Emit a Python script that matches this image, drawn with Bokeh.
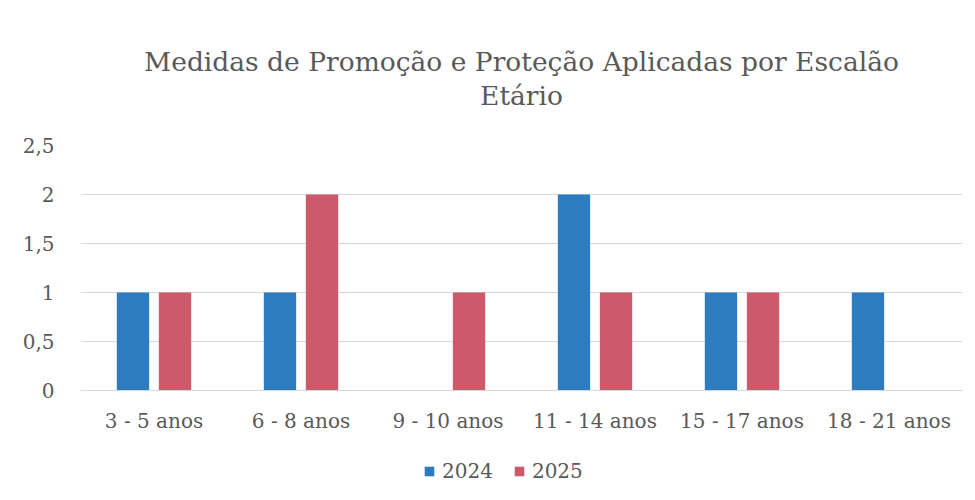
from bokeh.plotting import figure
from bokeh.layouts import column
from bokeh.models import (ColumnDataSource, Label, Legend, LegendItem, SingleIntervalTicker,
                          CustomJSTickFormatter, Range1d)
from bokeh.transform import dodge
from bokeh.embed import file_html
from bokeh.resources import INLINE

categories = ["3 - 5 anos", "6 - 8 anos", "9 - 10 anos", "11 - 14 anos", "15 - 17 anos", "18 - 21 anos"]
v2024 = [1, 1, 0, 2, 1, 1]
v2025 = [1, 2, 1, 1, 1, 0]
series = ["2024", "2025"]
title_lines = ["Medidas de Promoção e Proteção Aplicadas por Escalão", "Etário"]

FONT = "DejaVu Serif"
GRAY = "#595959"
BLUE = "#2e7cc0"
RED = "#cc5a6a"
FW, FH = 882, 245
HEAD_H, LEG_H = 115, 50


def blank(h, xr=None, yr=None):
    f = figure(frame_width=FW, frame_height=h,
               x_range=xr if xr is not None else Range1d(0, 1),
               y_range=yr if yr is not None else Range1d(0, 1),
               output_backend="svg", toolbar_location=None, x_axis_type=None, y_axis_type=None,
               min_border_left=80, min_border_right=5, min_border_top=0, min_border_bottom=0)
    f.outline_line_color = None
    f.xgrid.visible = False
    f.ygrid.visible = False
    return f


# header with the two title lines
head = blank(HEAD_H)
for txt, yy in zip(title_lines, [HEAD_H - 61, HEAD_H - 95]):
    head.add_layout(Label(x=FW / 2, y=yy, x_units="screen", y_units="screen", text=txt,
                          text_align="center", text_baseline="alphabetic", text_font=FONT,
                          text_font_size="26.5px", text_color=GRAY))

# main chart
src = ColumnDataSource(dict(cat=categories, a=v2024, b=v2025))
p = figure(x_range=categories, y_range=(0, 2.5), frame_width=FW, frame_height=FH,
           output_backend="svg", toolbar_location=None,
           min_border_left=80, min_border_right=5, min_border_top=145 - HEAD_H, min_border_bottom=50)

p.vbar(x=dodge("cat", -0.143, range=p.x_range), top="a", width=0.22, source=src,
       fill_color=BLUE, line_color=None)
p.vbar(x=dodge("cat", 0.143, range=p.x_range), top="b", width=0.22, source=src,
       fill_color=RED, line_color=None)

p.outline_line_color = None
p.xgrid.grid_line_color = None
p.ygrid.grid_line_color = "#d9d9d9"
p.yaxis.ticker = SingleIntervalTicker(interval=0.5)
p.yaxis.formatter = CustomJSTickFormatter(code="return tick.toString().replace('.', ',');")
for ax in (p.xaxis, p.yaxis):
    ax.major_tick_line_color = None
    ax.minor_tick_line_color = None
    ax.major_label_text_font = FONT
    ax.major_label_text_font_size = "20px"
    ax.major_label_text_color = GRAY
p.yaxis.axis_line_color = None
p.xaxis.axis_line_color = "#d9d9d9"
p.yaxis.major_label_standoff = 20
p.xaxis.major_label_standoff = 12

# legend strip: the same series drawn out of view, only their legend swatches show
leg = blank(LEG_H, xr=categories, yr=Range1d(10, 11))
g1 = leg.vbar(x=dodge("cat", -0.143, range=leg.x_range), top="a", width=0.22, source=src,
              fill_color=BLUE, line_color=None)
g2 = leg.vbar(x=dodge("cat", 0.143, range=leg.x_range), top="b", width=0.22, source=src,
              fill_color=RED, line_color=None)
legend = Legend(items=[LegendItem(label=series[0], renderers=[g1]),
                       LegendItem(label=series[1], renderers=[g2])],
                orientation="horizontal", location=(343, 7),
                label_text_font=FONT, label_text_font_size="20px", label_text_color=GRAY,
                glyph_width=12, glyph_height=12, label_standoff=7, spacing=20,
                border_line_color=None, background_fill_alpha=0, margin=0, padding=4)
leg.add_layout(legend, "center")

layout = column(head, p, leg, spacing=0)
open("out.html", "w").write(file_html(layout, INLINE))
